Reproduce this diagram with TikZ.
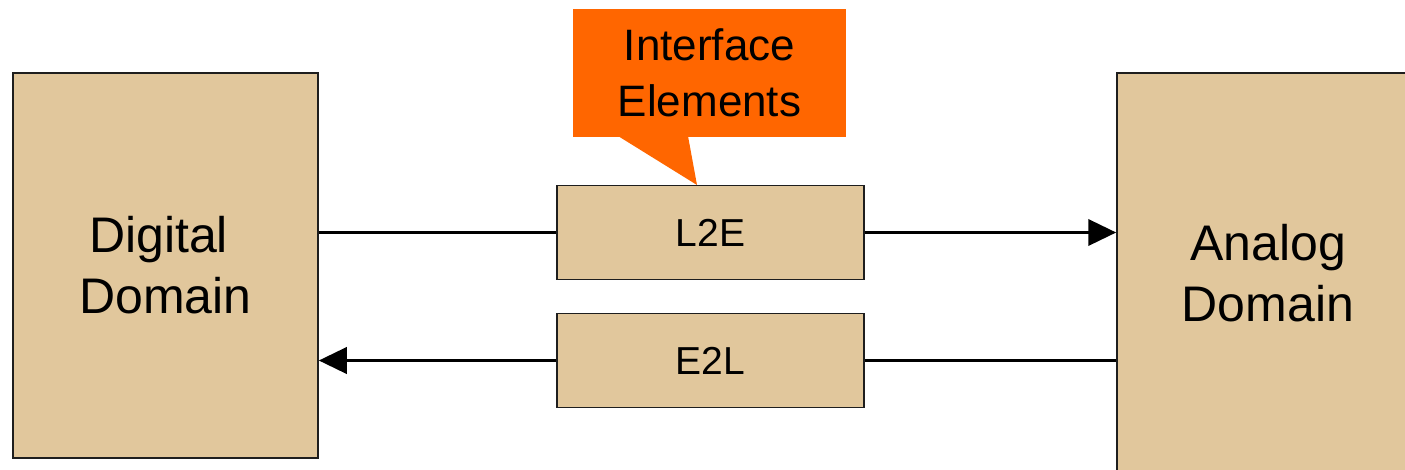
\documentclass[tikz,border=0pt]{standalone}
\usepackage{fontspec}
\setmainfont{Liberation Sans}
\usetikzlibrary{arrows.meta}
\definecolor{tan}{RGB}{225, 199, 156}
\definecolor{note}{RGB}{255, 102, 0}
\definecolor{edge}{RGB}{30, 30, 30}

\begin{document}
\begin{tikzpicture}[x=1pt, y=1pt,
  block/.style={rectangle, inner sep=0pt, fill=tan, draw=edge, line width=1.5pt, align=center},
  link/.style={line width=3.8pt, color=black},
  tip/.style={-{Triangle[length=28pt, width=26pt]}}]
\clip (0, 0) rectangle (1405, -469);
\node (digital) [block, minimum width=305pt, minimum height=385pt, font=\fontsize{50}{61}\selectfont] at (165.5, -265.5) {Digital\hphantom{\ }\\Domain};
\node (analog) [block, minimum width=302pt, minimum height=401pt, font=\fontsize{50}{61}\selectfont] at (1268.0, -273.5) {Analog\\Domain};
\node (l2e) [block, minimum width=307pt, minimum height=94pt, font=\fontsize{39}{47}\selectfont] at (710.5, -232.5) {L2E};
\node (e2l) [block, minimum width=307pt, minimum height=94pt, font=\fontsize{39}{47}\selectfont] at (710.5, -360.5) {E2L};
\node (elements) [rectangle, inner sep=0pt, fill=note, minimum width=273pt, minimum height=128pt, align=center, font=\fontsize{44}{56}\selectfont] at (709.5, -73.0) {Interface\\Elements};
% pointer of the note
\fill [note] (618, -136) -- (697, -185) -- (688, -136) -- cycle;
\draw [link] (digital.east |- l2e.west) to (l2e.west);
\draw [link, tip] (l2e.east) to (l2e.east -| analog.west);
\draw [link] (analog.west |- e2l.east) to (e2l.east);
\draw [link, tip] (e2l.west) to (e2l.west -| digital.east);
\end{tikzpicture}
\end{document}
